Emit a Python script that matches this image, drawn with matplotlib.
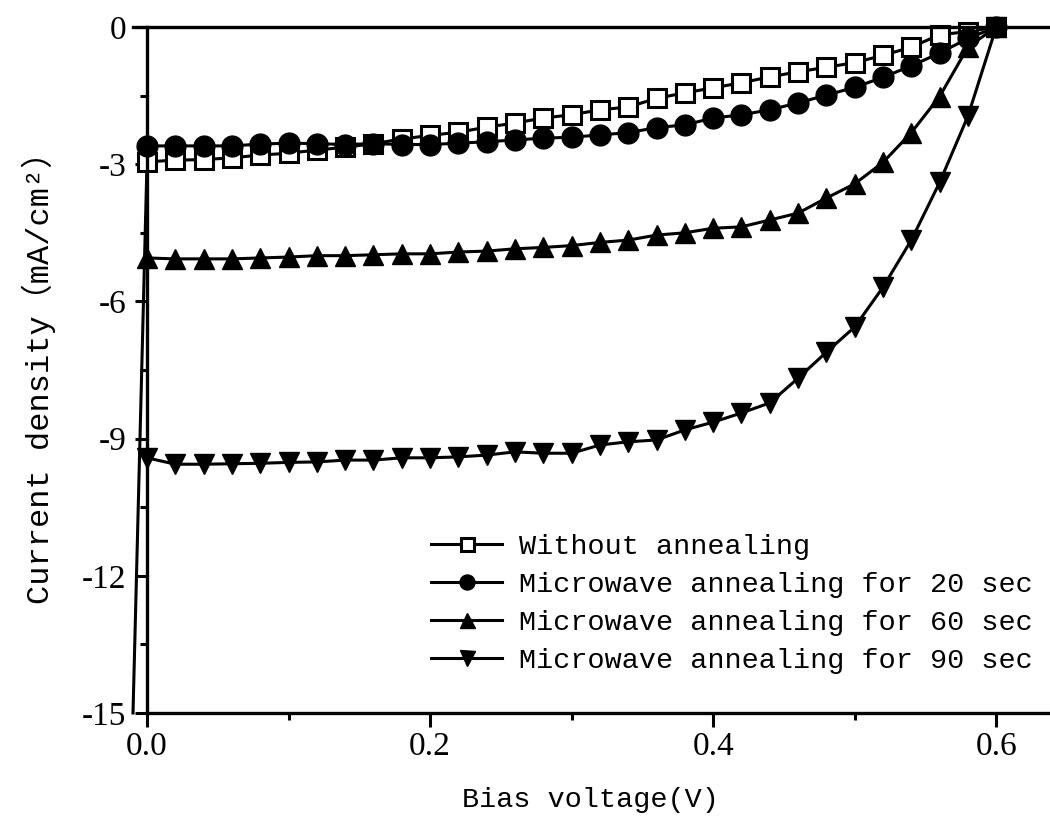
import matplotlib
matplotlib.use("Agg")
import matplotlib.pyplot as plt
from matplotlib.ticker import MultipleLocator

# --- data ---
voltage = [0.00, 0.02, 0.04, 0.06, 0.08, 0.10, 0.12, 0.14, 0.16, 0.18,
           0.20, 0.22, 0.24, 0.26, 0.28, 0.30, 0.32, 0.34, 0.36, 0.38,
           0.40, 0.42, 0.44, 0.46, 0.48, 0.50, 0.52, 0.54, 0.56, 0.58, 0.60]

j_none = [-2.95, -2.91, -2.90, -2.86, -2.80, -2.76, -2.69, -2.63, -2.55, -2.45,
          -2.37, -2.30, -2.19, -2.10, -1.99, -1.92, -1.81, -1.75, -1.56, -1.44,
          -1.33, -1.22, -1.09, -0.98, -0.88, -0.78, -0.62, -0.44, -0.17, -0.10, 0.0]
j_20s = [-2.60, -2.60, -2.60, -2.60, -2.56, -2.54, -2.55, -2.57, -2.55, -2.57,
         -2.57, -2.54, -2.51, -2.47, -2.43, -2.41, -2.36, -2.31, -2.20, -2.14,
         -1.99, -1.92, -1.81, -1.66, -1.49, -1.32, -1.10, -0.85, -0.57, -0.25, 0.0]
j_60s = [-5.05, -5.07, -5.07, -5.07, -5.05, -5.03, -5.00, -5.00, -4.98, -4.96,
         -4.96, -4.92, -4.90, -4.85, -4.82, -4.78, -4.71, -4.66, -4.55, -4.50,
         -4.40, -4.37, -4.22, -4.07, -3.74, -3.43, -2.96, -2.31, -1.52, -0.44, 0.0]
j_90s = [-9.42, -9.56, -9.56, -9.55, -9.54, -9.52, -9.51, -9.47, -9.47, -9.42,
         -9.42, -9.40, -9.36, -9.29, -9.32, -9.32, -9.14, -9.07, -9.03, -8.81,
         -8.64, -8.44, -8.22, -7.68, -7.11, -6.56, -5.69, -4.66, -3.40, -1.95, 0.0]

# steep lead-in of the unannealed curve just below 0 V
lead_v = [-0.0099, 0.00]
lead_j = [-15.0, -2.95]

labels = ["Without annealing",
          "Microwave annealing for 20 sec",
          "Microwave annealing for 60 sec",
          "Microwave annealing for 90 sec"]

MONO = ["Liberation Mono", "Noto Sans CJK TC", "DejaVu Sans"]
SERIF = "Liberation Serif"

fig = plt.figure(figsize=(10.5, 8.31), dpi=100)
ax = fig.add_axes([133 / 1050, 1 - 713 / 831, 1 - 133 / 1050, (713 - 27) / 831])

lw = 2.2
ax.plot(lead_v, lead_j, color="black", lw=lw, clip_on=False)
ax.plot(voltage, j_none, color="black", lw=lw, marker="s", ms=13,
        mfc="white", mec="black", mew=2.2, label=labels[0], clip_on=False)
ax.plot(voltage, j_20s, color="black", lw=lw, marker="o", ms=15,
        mfc="black", mec="black", label=labels[1], clip_on=False)
ax.plot(voltage, j_60s, color="black", lw=lw, marker="^", ms=15,
        mfc="black", mec="black", label=labels[2], clip_on=False)
ax.plot(voltage, j_90s, color="black", lw=lw, marker="v", ms=15,
        mfc="black", mec="black", label=labels[3], clip_on=False)

ax.set_xlim(-0.0099, 0.638)
ax.set_ylim(-15, 0)

# axes frame: left spine sits at V = 0, no right spine
ax.spines["right"].set_visible(False)
ax.spines["left"].set_position(("data", 0))
ax.spines["bottom"].set_bounds(0, 0.638)
for s in ["left", "bottom", "top"]:
    ax.spines[s].set_linewidth(2.4)

ax.xaxis.set_major_locator(MultipleLocator(0.2))
ax.xaxis.set_minor_locator(MultipleLocator(0.1))
ax.yaxis.set_major_locator(MultipleLocator(3))
ax.yaxis.set_minor_locator(MultipleLocator(1.5))
ax.tick_params(which="both", direction="out", top=False, right=False, width=2.2)
ax.tick_params(axis="x", which="major", length=10, pad=3)
ax.tick_params(axis="x", which="minor", length=5)
ax.tick_params(axis="y", which="major", length=9, pad=6)
ax.tick_params(axis="y", which="minor", length=5)
ax.set_xticks([0.0, 0.2, 0.4, 0.6])
ax.set_xticklabels(["0.0", "0.2", "0.4", "0.6"])
ax.set_yticks([-15, -12, -9, -6, -3, 0])
ax.set_yticklabels(["-15", "-12", "-9", "-6", "-3", "0"])
for t in ax.get_xticklabels() + ax.get_yticklabels():
    t.set_fontfamily(SERIF)
    t.set_fontsize(24)

ax.set_xlabel("Bias voltage(V)", family=MONO, fontsize=20.5)
ax.xaxis.set_label_coords((590 - 133) / 917, (713 - 787) / 686)
ax.set_ylabel("Current density（mA/cm²）", family=MONO, fontsize=23)
ax.yaxis.set_label_coords((56 - 133) / 917, 0.5)

leg = ax.legend(loc="upper left", bbox_to_anchor=(431 / 1050, 1 - 534 / 831),
                bbox_transform=fig.transFigure, frameon=False, borderpad=0,
                borderaxespad=0, handlelength=2.5, handletextpad=0.6,
                labelspacing=0.42, markerscale=0.72,
                prop={"family": MONO, "size": 20.5})

fig.savefig("out.png", dpi=100)
